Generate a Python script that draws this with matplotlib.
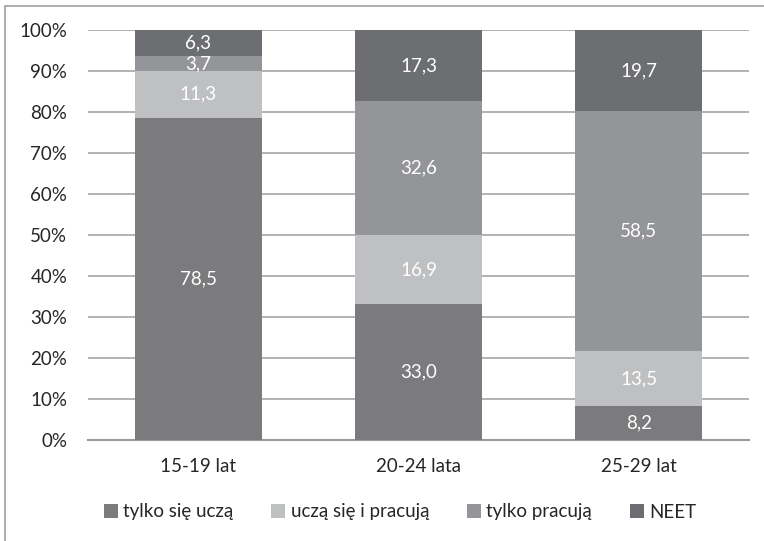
import numpy as np
import matplotlib.pyplot as plt
from matplotlib.patches import Rectangle

plt.rcParams['font.family'] = ['Lato', 'DejaVu Sans']

# age groups and shares (%) of each activity status
groups = ['15-19 lat', '20-24 lata', '25-29 lat']
series = ['tylko się uczą', 'uczą się i pracują', 'tylko pracują', 'NEET']
tylko_ucza = [78.5, 33.0, 8.2]
ucza_pracuja = [11.3, 16.9, 13.5]
tylko_pracuja = [3.7, 32.6, 58.5]
neet = [6.3, 17.3, 19.7]
colors = ['#7b7b7e', '#bfc0c2', '#949598', '#6d6e71']

values = np.array([tylko_ucza, ucza_pracuja, tylko_pracuja, neet])
totals = values.sum(axis=0)
shares = values / totals * 100  # 100% stacked

fs = 13.5
fig = plt.figure(figsize=(7.64, 5.41), dpi=100)
ax = fig.add_axes([88 / 764, 1 - 440 / 541, (749 - 88) / 764, 410 / 541])

x = np.arange(len(groups))
bottom = np.zeros(len(groups))
for vals, sh, name, c in zip(values, shares, series, colors):
    ax.bar(x, sh, bottom=bottom, width=0.575, color=c, label=name, zorder=3)
    for xi, v, s, b in zip(x, vals, sh, bottom):
        ax.text(xi, b + s / 2, f'{v:.1f}'.replace('.', ','), ha='center', va='center',
                color='white', fontsize=fs, zorder=4)
    bottom += sh

ax.set_xlim(-0.5, 2.5)
ax.set_ylim(0, 100)
ax.set_yticks(np.arange(0, 101, 10))
ax.set_yticklabels([f'{t}%' for t in range(0, 101, 10)])
ax.yaxis.grid(True, color='#a6a6a6', linewidth=1.2, zorder=0)
ax.set_xticks(x)
ax.set_xticklabels(groups)
ax.tick_params(axis='both', length=0, labelsize=fs, colors='#262626')
ax.tick_params(axis='x', pad=13)
ax.tick_params(axis='y', pad=15)
for s in ['left', 'right', 'top']:
    ax.spines[s].set_visible(False)
ax.spines['bottom'].set_color('#9a9a9a')
ax.spines['bottom'].set_linewidth(1.5)

fig.legend(loc='center', bbox_to_anchor=(400 / 764, 1 - 512 / 541), ncol=4,
           frameon=False, fontsize=fs, handlelength=0.75, handleheight=0.75,
           handletextpad=0.3, columnspacing=2.0, labelcolor='#262626')

# outer chart frame
fig.patches.append(Rectangle((5 / 764, -0.05), 1.1, 1.05 - 6 / 541, transform=fig.transFigure,
                             fill=False, edgecolor='#a0a0a0', linewidth=1.2))

fig.savefig('out.png', dpi=100)
